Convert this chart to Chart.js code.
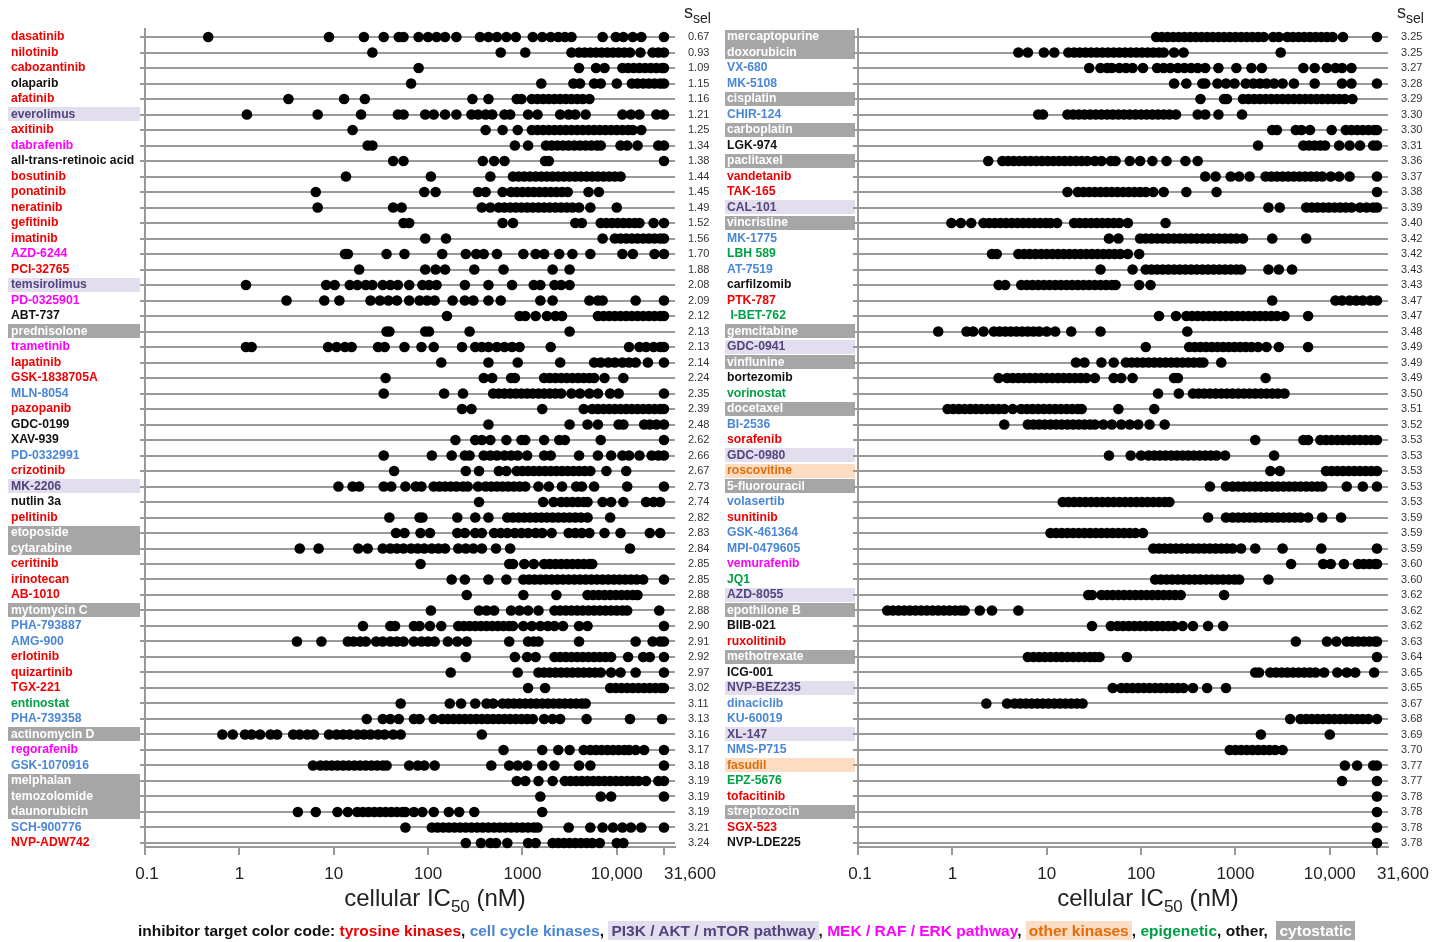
<!DOCTYPE html>
<html>
<head>
<meta charset="utf-8">
<script src="https://cdn.jsdelivr.net/npm/chart.js@4/dist/chart.umd.min.js"></script>
<style>
    body { margin: 0; background: #fff; width: 1445px; height: 942px; position: relative; overflow: hidden; font-family: "Liberation Sans", Arial, sans-serif; }
    canvas { position: absolute; top: 0; }
    #painelEsq { left: 0; }
    #painelDir { left: 713px; }
    #legenda { position: absolute; left: 138px; top: 922px; font-weight: bold; font-size: 15.5px; white-space: nowrap; color: #111; }
    #legenda span.caixa { padding: 1px 3px; }
</style>
</head>
<body>
<canvas id="painelEsq" width="718" height="942"></canvas>
<canvas id="painelDir" width="732" height="942"></canvas>
<div id="legenda">inhibitor target color code: <span style="color:#f00000">tyrosine kinases</span>, <span style="color:#4a86d6">cell cycle kinases</span>, <span class="caixa" style="color:#54437e;background:#e2deed">PI3K / AKT / mTOR pathway</span>, <span style="color:#ff00ff">MEK / RAF / ERK pathway</span>, <span class="caixa" style="color:#e36c0a;background:#fcdcc2">other kinases</span>, <span style="color:#00a046">epigenetic</span>, other, &nbsp;<span class="caixa" style="color:#fff;background:#a6a6a6">cytostatic</span></div>
<script>
// Dados: valores de IC50 em log10(nM), uma linha por composto
const xTicks = [-1, 0, 1, 2, 3, 4, 4.5];
const xTickLabels = ['0.1', '1', '10', '100', '1000', '10,000', '31,600'];

// tk = tirosina quinase, cc = ciclo celular, pi3k, mek, outra = outras quinases, epi = epigenetico, other, cito = citostatico
const leftDrugs = ['dasatinib', 'nilotinib', 'cabozantinib', 'olaparib', 'afatinib', 'everolimus', 'axitinib', 'dabrafenib', 'all-trans-retinoic acid', 'bosutinib', 'ponatinib', 'neratinib', 'gefitinib', 'imatinib', 'AZD-6244', 'PCI-32765', 'temsirolimus', 'PD-0325901', 'ABT-737', 'prednisolone', 'trametinib', 'lapatinib', 'GSK-1838705A', 'MLN-8054', 'pazopanib', 'GDC-0199', 'XAV-939', 'PD-0332991', 'crizotinib', 'MK-2206', 'nutlin 3a', 'pelitinib', 'etoposide', 'cytarabine', 'ceritinib', 'irinotecan', 'AB-1010', 'mytomycin C', 'PHA-793887', 'AMG-900', 'erlotinib', 'quizartinib', 'TGX-221', 'entinostat', 'PHA-739358', 'actinomycin D', 'regorafenib', 'GSK-1070916', 'melphalan', 'temozolomide', 'daunorubicin', 'SCH-900776', 'NVP-ADW742'];
const leftClass = ['tk', 'tk', 'tk', 'other', 'tk', 'pi3k', 'tk', 'mek', 'other', 'tk', 'tk', 'tk', 'tk', 'tk', 'mek', 'tk', 'pi3k', 'mek', 'other', 'cito', 'mek', 'tk', 'tk', 'cc', 'tk', 'other', 'other', 'cc', 'tk', 'pi3k', 'other', 'tk', 'cito', 'cito', 'tk', 'tk', 'tk', 'cito', 'cc', 'cc', 'tk', 'tk', 'tk', 'epi', 'cc', 'cito', 'mek', 'cc', 'cito', 'cito', 'cito', 'cc', 'tk'];
const leftSsel = [0.67, 0.93, 1.09, 1.15, 1.16, 1.21, 1.25, 1.34, 1.38, 1.44, 1.45, 1.49, 1.52, 1.56, 1.70, 1.88, 2.08, 2.09, 2.12, 2.13, 2.13, 2.14, 2.24, 2.35, 2.39, 2.48, 2.62, 2.66, 2.67, 2.73, 2.74, 2.82, 2.83, 2.84, 2.85, 2.85, 2.88, 2.88, 2.90, 2.91, 2.92, 2.97, 3.02, 3.11, 3.13, 3.16, 3.17, 3.18, 3.19, 3.19, 3.19, 3.21, 3.24];
const leftLogIC50 = [
    [-0.33, 0.95, 1.32, 1.53, 1.69, 1.74, 1.90, 2.00, 2.09, 2.18, 2.30, 2.55, 2.64, 2.73, 2.83, 2.93, 3.11, 3.21, 3.30, 3.38, 3.45, 3.52, 3.85, 3.99, 4.07, 4.17, 4.26, 4.50],
    [1.41, 2.77, 3.03, 3.52, 3.60, 3.66, 3.72, 3.78, 3.84, 3.90, 3.96, 4.02, 4.08, 4.14, 4.25, 4.38, 4.44, 4.50],
    [1.90, 3.60, 3.78, 3.87, 4.06, 4.12, 4.18, 4.24, 4.30, 4.36, 4.42, 4.48, 4.50],
    [1.82, 3.20, 3.54, 3.61, 3.76, 3.83, 4.00, 4.16, 4.22, 4.28, 4.34, 4.40, 4.46, 4.50],
    [0.52, 1.11, 1.33, 2.47, 2.64, 2.94, 2.99, 3.10, 3.16, 3.22, 3.28, 3.34, 3.40, 3.46, 3.52, 3.58, 3.64, 3.71],
    [0.08, 0.83, 1.29, 1.68, 1.74, 1.97, 2.06, 2.18, 2.30, 2.46, 2.53, 2.61, 2.68, 2.81, 2.87, 3.06, 3.16, 3.40, 3.49, 3.56, 3.67, 4.06, 4.15, 4.24, 4.42, 4.50],
    [1.20, 2.61, 2.79, 2.95, 3.10, 3.16, 3.22, 3.28, 3.34, 3.40, 3.46, 3.52, 3.58, 3.64, 3.70, 3.76, 3.82, 3.88, 3.94, 4.00, 4.06, 4.12, 4.17, 4.26],
    [1.36, 1.41, 2.92, 3.06, 3.25, 3.31, 3.37, 3.43, 3.49, 3.55, 3.61, 3.67, 3.73, 3.79, 3.83, 4.04, 4.11, 4.22, 4.44, 4.50],
    [1.63, 1.74, 2.58, 2.70, 2.81, 3.24, 3.28, 4.50],
    [1.13, 2.03, 2.66, 2.90, 2.96, 3.02, 3.08, 3.14, 3.20, 3.26, 3.32, 3.38, 3.44, 3.50, 3.56, 3.62, 3.68, 3.74, 3.80, 3.86, 3.92, 3.98, 4.04],
    [0.81, 1.96, 2.08, 2.53, 2.61, 2.79, 2.88, 2.94, 3.00, 3.06, 3.12, 3.18, 3.24, 3.30, 3.36, 3.42, 3.48, 3.70, 3.81],
    [0.83, 1.63, 1.72, 2.57, 2.66, 2.75, 2.81, 2.87, 2.93, 2.99, 3.05, 3.11, 3.17, 3.23, 3.29, 3.35, 3.41, 3.47, 3.53, 3.60, 3.72, 4.00],
    [1.74, 1.80, 2.79, 2.90, 3.56, 3.63, 3.83, 3.89, 3.95, 4.01, 4.07, 4.13, 4.19, 4.24, 4.39, 4.50],
    [1.97, 2.19, 3.85, 3.98, 4.04, 4.10, 4.16, 4.22, 4.28, 4.34, 4.40, 4.46, 4.50],
    [1.12, 1.15, 1.56, 1.75, 2.15, 2.40, 2.51, 2.59, 2.73, 3.01, 3.14, 3.23, 3.39, 3.53, 3.72, 4.06, 4.17, 4.40, 4.50],
    [1.27, 1.97, 2.08, 2.18, 2.49, 2.80, 3.32, 3.50],
    [0.07, 0.92, 1.01, 1.17, 1.25, 1.34, 1.41, 1.52, 1.60, 1.68, 1.80, 1.94, 2.01, 2.09, 2.39, 2.64, 2.89, 3.12, 3.19, 3.34, 3.41, 3.50],
    [0.50, 0.90, 1.06, 1.39, 1.49, 1.58, 1.67, 1.80, 1.91, 1.99, 2.07, 2.26, 2.39, 2.48, 2.64, 2.77, 3.19, 3.32, 3.71, 3.80, 3.85, 4.20, 4.50],
    [2.20, 2.97, 3.03, 3.14, 3.26, 3.35, 3.42, 3.80, 3.86, 3.92, 3.98, 4.04, 4.10, 4.16, 4.22, 4.28, 4.34, 4.40, 4.46, 4.50],
    [1.56, 1.59, 1.97, 2.01, 2.44, 3.50],
    [0.07, 0.13, 0.94, 1.03, 1.12, 1.19, 1.47, 1.54, 1.75, 1.93, 2.06, 2.36, 2.50, 2.57, 2.64, 2.73, 2.81, 2.89, 2.97, 3.30, 4.13, 4.24, 4.31, 4.39, 4.46, 4.50],
    [2.14, 2.64, 2.95, 3.40, 3.76, 3.83, 3.91, 3.98, 4.06, 4.13, 4.20, 4.33, 4.50],
    [1.55, 2.59, 2.68, 2.88, 2.92, 3.23, 3.29, 3.35, 3.41, 3.47, 3.53, 3.59, 3.65, 3.71, 3.76, 3.87, 4.07],
    [1.53, 2.17, 2.37, 2.69, 2.75, 2.81, 2.87, 2.93, 2.99, 3.05, 3.11, 3.17, 3.23, 3.29, 3.35, 3.41, 3.52, 3.61, 3.71, 3.80, 3.93, 4.02, 4.50],
    [2.36, 2.46, 3.21, 3.65, 3.74, 3.80, 3.86, 3.92, 3.98, 4.04, 4.10, 4.16, 4.22, 4.28, 4.34, 4.40, 4.46, 4.50],
    [2.64, 3.50, 3.69, 3.80, 4.02, 4.07, 4.29, 4.35, 4.42, 4.50],
    [2.29, 2.50, 2.57, 2.66, 2.83, 2.99, 3.03, 3.23, 3.39, 3.45, 3.83, 4.50],
    [1.53, 2.04, 2.25, 2.39, 2.44, 2.59, 2.66, 2.73, 2.81, 2.88, 2.95, 3.05, 3.23, 3.30, 3.60, 3.80, 3.94, 4.06, 4.13, 4.24, 4.37, 4.44, 4.50],
    [1.64, 2.40, 2.54, 2.75, 2.83, 2.94, 3.00, 3.06, 3.12, 3.18, 3.24, 3.30, 3.36, 3.42, 3.48, 3.54, 3.60, 3.66, 3.72, 3.89, 4.10],
    [1.05, 1.20, 1.27, 1.53, 1.61, 1.76, 1.87, 1.93, 2.06, 2.12, 2.18, 2.24, 2.30, 2.37, 2.42, 2.53, 2.61, 2.67, 2.73, 2.79, 2.85, 2.91, 2.97, 3.03, 3.17, 3.28, 3.42, 3.57, 3.63, 3.76, 4.11, 4.50],
    [2.54, 3.22, 3.33, 3.41, 3.47, 3.53, 3.59, 3.65, 3.69, 3.85, 3.94, 4.07, 4.31, 4.39, 4.46],
    [1.59, 1.91, 1.94, 2.31, 2.50, 2.64, 2.84, 2.90, 2.96, 3.02, 3.08, 3.14, 3.20, 3.26, 3.32, 3.38, 3.44, 3.50, 3.56, 3.62, 3.69, 3.93],
    [1.66, 1.75, 1.92, 2.02, 2.31, 2.39, 2.50, 2.57, 2.70, 2.77, 2.84, 2.92, 2.99, 3.06, 3.14, 3.21, 3.31, 3.49, 3.56, 3.63, 3.71, 3.87, 4.04, 4.35, 4.46],
    [0.64, 0.84, 1.26, 1.36, 1.52, 1.60, 1.67, 1.74, 1.82, 1.89, 1.96, 2.04, 2.11, 2.18, 2.32, 2.40, 2.48, 2.57, 2.72, 2.87, 4.14],
    [1.92, 2.86, 2.90, 3.02, 3.12, 3.23, 3.29, 3.35, 3.41, 3.47, 3.53, 3.59, 3.65, 3.71, 3.74],
    [2.25, 2.39, 2.64, 2.83, 3.01, 3.07, 3.13, 3.19, 3.25, 3.31, 3.37, 3.43, 3.49, 3.55, 3.61, 3.67, 3.73, 3.79, 3.85, 3.91, 3.97, 4.03, 4.09, 4.15, 4.21, 4.28, 4.50],
    [2.41, 3.01, 3.36, 3.69, 3.75, 3.81, 3.87, 3.93, 3.99, 4.05, 4.11, 4.17, 4.22],
    [2.03, 2.54, 2.62, 2.70, 2.88, 2.97, 3.06, 3.17, 3.34, 3.40, 3.46, 3.52, 3.58, 3.64, 3.70, 3.76, 3.82, 3.88, 3.94, 4.00, 4.06, 4.11, 4.45],
    [1.31, 1.60, 1.65, 1.85, 1.91, 2.02, 2.14, 2.32, 2.38, 2.44, 2.50, 2.56, 2.62, 2.68, 2.74, 2.80, 2.86, 2.90, 3.01, 3.10, 3.19, 3.27, 3.34, 3.43, 3.60, 3.69, 4.50],
    [0.61, 0.87, 1.15, 1.21, 1.28, 1.34, 1.45, 1.52, 1.60, 1.67, 1.74, 1.85, 1.93, 2.00, 2.07, 2.21, 2.31, 2.41, 2.86, 3.06, 3.12, 3.17, 3.60, 4.20, 4.38, 4.46, 4.50],
    [2.40, 2.92, 3.05, 3.14, 3.34, 3.40, 3.46, 3.52, 3.58, 3.64, 3.70, 3.76, 3.82, 3.88, 3.94, 4.12, 4.28, 4.35, 4.50],
    [2.24, 2.95, 3.17, 3.23, 3.29, 3.35, 3.41, 3.47, 3.53, 3.59, 3.65, 3.71, 3.77, 3.83, 3.94, 4.04, 4.20, 4.50],
    [3.06, 3.24, 3.93, 3.99, 4.05, 4.11, 4.17, 4.23, 4.29, 4.35, 4.41, 4.47, 4.50],
    [1.71, 2.23, 2.35, 2.50, 2.62, 2.69, 2.79, 2.85, 2.91, 2.97, 3.03, 3.09, 3.15, 3.21, 3.27, 3.33, 3.39, 3.45, 3.51, 3.57, 3.63, 3.67],
    [1.35, 1.52, 1.60, 1.69, 1.85, 1.91, 2.06, 2.15, 2.21, 2.27, 2.33, 2.39, 2.45, 2.51, 2.57, 2.63, 2.69, 2.75, 2.81, 2.87, 2.93, 2.99, 3.05, 3.11, 3.23, 3.32, 3.40, 3.68, 4.14, 4.48],
    [-0.18, -0.07, 0.06, 0.13, 0.22, 0.33, 0.40, 0.57, 0.64, 0.72, 0.79, 0.95, 1.03, 1.10, 1.17, 1.25, 1.32, 1.39, 1.47, 1.54, 1.63, 1.71, 2.57],
    [2.80, 3.21, 3.38, 3.50, 3.65, 3.72, 3.78, 3.84, 3.90, 3.96, 4.02, 4.08, 4.13, 4.20, 4.29, 4.50],
    [0.78, 0.86, 0.92, 0.98, 1.04, 1.10, 1.16, 1.22, 1.28, 1.34, 1.40, 1.46, 1.52, 1.56, 1.80, 1.89, 1.96, 2.07, 2.67, 2.86, 2.95, 3.05, 3.21, 3.34, 3.60, 3.72, 4.50],
    [2.94, 3.03, 3.17, 3.32, 3.45, 3.51, 3.57, 3.63, 3.69, 3.75, 3.81, 3.87, 3.93, 3.99, 4.05, 4.11, 4.17, 4.23, 4.31, 4.44, 4.50],
    [3.19, 3.83, 3.94, 4.50],
    [0.62, 0.81, 1.04, 1.15, 1.25, 1.31, 1.37, 1.43, 1.49, 1.55, 1.61, 1.67, 1.73, 1.76, 1.85, 1.94, 2.06, 2.22, 2.33, 2.49, 3.21],
    [1.76, 2.04, 2.10, 2.16, 2.22, 2.28, 2.34, 2.40, 2.46, 2.52, 2.58, 2.64, 2.70, 2.76, 2.82, 2.88, 2.94, 3.00, 3.06, 3.12, 3.16, 3.49, 3.72, 3.85, 3.96, 4.06, 4.15, 4.26, 4.50],
    [2.40, 2.56, 2.66, 2.72, 2.84, 3.06, 3.14, 3.32, 3.38, 3.44, 3.50, 3.56, 3.62, 3.68, 3.74, 3.82, 4.00, 4.07]
];

const rightDrugs = ['mercaptopurine', 'doxorubicin', 'VX-680', 'MK-5108', 'cisplatin', 'CHIR-124', 'carboplatin', 'LGK-974', 'paclitaxel', 'vandetanib', 'TAK-165', 'CAL-101', 'vincristine', 'MK-1775', 'LBH 589', 'AT-7519', 'carfilzomib', 'PTK-787', ' I-BET-762', 'gemcitabine', 'GDC-0941', 'vinflunine', 'bortezomib', 'vorinostat', 'docetaxel', 'BI-2536', 'sorafenib', 'GDC-0980', 'roscovitine', '5-fluorouracil', 'volasertib', 'sunitinib', 'GSK-461364', 'MPI-0479605', 'vemurafenib', 'JQ1', 'AZD-8055', 'epothilone B', 'BIIB-021', 'ruxolitinib', 'methotrexate', 'ICG-001', 'NVP-BEZ235', 'dinaciclib', 'KU-60019', 'XL-147', 'NMS-P715', 'fasudil', 'EPZ-5676', 'tofacitinib', 'streptozocin', 'SGX-523', 'NVP-LDE225'];
const rightClass = ['cito', 'cito', 'cc', 'cc', 'cito', 'cc', 'cito', 'other', 'cito', 'tk', 'tk', 'pi3k', 'cito', 'cc', 'epi', 'cc', 'other', 'tk', 'epi', 'cito', 'pi3k', 'cito', 'other', 'epi', 'cito', 'cc', 'tk', 'pi3k', 'outra', 'cito', 'cc', 'tk', 'cc', 'cc', 'mek', 'epi', 'pi3k', 'cito', 'other', 'tk', 'cito', 'other', 'pi3k', 'cc', 'cc', 'pi3k', 'cc', 'outra', 'epi', 'tk', 'cito', 'tk', 'other'];
const rightSsel = [3.25, 3.25, 3.27, 3.28, 3.29, 3.30, 3.30, 3.31, 3.36, 3.37, 3.38, 3.39, 3.40, 3.42, 3.42, 3.43, 3.43, 3.47, 3.47, 3.48, 3.49, 3.49, 3.49, 3.50, 3.51, 3.52, 3.53, 3.53, 3.53, 3.53, 3.53, 3.59, 3.59, 3.59, 3.60, 3.60, 3.62, 3.62, 3.62, 3.63, 3.64, 3.65, 3.65, 3.67, 3.68, 3.69, 3.70, 3.77, 3.77, 3.78, 3.78, 3.78, 3.78];
const rightLogIC50 = [
    [2.16, 2.22, 2.28, 2.34, 2.40, 2.46, 2.52, 2.58, 2.64, 2.70, 2.76, 2.82, 2.88, 2.94, 3.00, 3.06, 3.12, 3.18, 3.24, 3.30, 3.40, 3.46, 3.55, 3.61, 3.67, 3.73, 3.79, 3.85, 3.91, 3.97, 4.03, 4.14, 4.50],
    [0.70, 0.80, 0.97, 1.08, 1.23, 1.29, 1.35, 1.41, 1.47, 1.53, 1.59, 1.65, 1.71, 1.77, 1.83, 1.89, 1.95, 2.01, 2.07, 2.13, 2.19, 2.24, 2.35, 2.45, 3.48],
    [1.45, 1.57, 1.64, 1.69, 1.77, 1.84, 1.91, 2.02, 2.17, 2.24, 2.31, 2.39, 2.46, 2.53, 2.60, 2.68, 2.82, 3.01, 3.17, 3.28, 3.72, 3.84, 3.97, 4.06, 4.13, 4.23],
    [2.35, 2.48, 2.65, 2.68, 2.81, 2.90, 2.99, 3.11, 3.19, 3.26, 3.33, 3.41, 3.50, 3.62, 3.84, 4.13, 4.23, 4.50],
    [2.63, 2.88, 2.91, 3.08, 3.14, 3.20, 3.26, 3.32, 3.38, 3.44, 3.50, 3.56, 3.62, 3.68, 3.74, 3.80, 3.86, 3.92, 3.98, 4.04, 4.10, 4.16, 4.24],
    [0.91, 0.96, 1.22, 1.28, 1.34, 1.40, 1.46, 1.52, 1.58, 1.64, 1.70, 1.76, 1.82, 1.88, 1.94, 2.00, 2.06, 2.12, 2.18, 2.24, 2.30, 2.37, 2.60, 2.68, 2.82, 3.07],
    [3.39, 3.44, 3.64, 3.70, 3.79, 4.02, 4.17, 4.23, 4.29, 4.35, 4.41, 4.47, 4.50],
    [3.24, 3.72, 3.78, 3.84, 3.90, 3.95, 4.10, 4.21, 4.32, 4.46, 4.50],
    [0.38, 0.53, 0.59, 0.65, 0.71, 0.77, 0.83, 0.89, 0.95, 1.01, 1.07, 1.13, 1.19, 1.25, 1.31, 1.37, 1.43, 1.51, 1.58, 1.68, 1.73, 1.88, 1.99, 2.12, 2.27, 2.47, 2.60],
    [2.68, 2.79, 2.95, 3.04, 3.15, 3.32, 3.38, 3.44, 3.50, 3.56, 3.62, 3.68, 3.74, 3.80, 3.86, 3.92, 4.01, 4.10, 4.21, 4.50],
    [1.22, 1.33, 1.39, 1.45, 1.51, 1.57, 1.63, 1.69, 1.75, 1.81, 1.87, 1.93, 1.99, 2.05, 2.13, 2.24, 2.48, 2.80, 4.50],
    [3.35, 3.47, 3.75, 3.81, 3.87, 3.93, 3.99, 4.05, 4.11, 4.17, 4.23, 4.32, 4.39, 4.46, 4.50],
    [-0.01, 0.09, 0.20, 0.33, 0.39, 0.45, 0.51, 0.57, 0.63, 0.69, 0.75, 0.81, 0.87, 0.93, 0.99, 1.04, 1.11, 1.29, 1.35, 1.41, 1.47, 1.53, 1.59, 1.65, 1.71, 1.77, 1.86, 2.26],
    [1.66, 1.76, 1.99, 2.05, 2.11, 2.17, 2.23, 2.29, 2.35, 2.41, 2.47, 2.53, 2.59, 2.65, 2.71, 2.77, 2.83, 2.89, 2.95, 3.01, 3.08, 3.39, 3.75],
    [0.42, 0.47, 0.70, 0.76, 0.82, 0.88, 0.94, 1.00, 1.06, 1.12, 1.18, 1.24, 1.30, 1.36, 1.42, 1.48, 1.54, 1.60, 1.66, 1.72, 1.78, 1.86, 1.98],
    [1.57, 1.91, 2.05, 2.11, 2.17, 2.23, 2.29, 2.35, 2.41, 2.47, 2.53, 2.59, 2.65, 2.71, 2.77, 2.83, 2.89, 2.95, 3.01, 3.06, 3.35, 3.46, 3.60],
    [0.49, 0.56, 0.73, 0.79, 0.85, 0.91, 0.97, 1.03, 1.09, 1.15, 1.21, 1.27, 1.33, 1.39, 1.45, 1.51, 1.57, 1.63, 1.69, 1.73, 1.98, 2.10],
    [3.39, 4.06, 4.13, 4.21, 4.28, 4.35, 4.43, 4.50],
    [2.19, 2.37, 2.48, 2.54, 2.60, 2.66, 2.72, 2.78, 2.84, 2.90, 2.96, 3.02, 3.08, 3.14, 3.20, 3.26, 3.32, 3.38, 3.44, 3.52, 3.77],
    [-0.15, 0.15, 0.22, 0.33, 0.44, 0.50, 0.56, 0.62, 0.68, 0.74, 0.80, 0.86, 0.92, 1.00, 1.09, 1.26, 1.57, 2.49],
    [2.05, 2.51, 2.57, 2.63, 2.69, 2.75, 2.81, 2.87, 2.93, 2.99, 3.05, 3.11, 3.17, 3.24, 3.33, 3.46, 3.77],
    [1.31, 1.40, 1.58, 1.71, 1.84, 1.90, 1.96, 2.02, 2.08, 2.14, 2.20, 2.26, 2.32, 2.38, 2.44, 2.50, 2.56, 2.62, 2.66, 2.85],
    [0.49, 0.58, 0.64, 0.70, 0.76, 0.82, 0.88, 0.94, 1.00, 1.06, 1.12, 1.18, 1.24, 1.30, 1.36, 1.42, 1.51, 1.71, 1.79, 1.91, 2.35, 2.39, 3.32],
    [2.18, 2.40, 2.55, 2.61, 2.67, 2.73, 2.79, 2.85, 2.91, 2.97, 3.03, 3.09, 3.15, 3.21, 3.27, 3.33, 3.39, 3.45, 3.52],
    [-0.05, 0.01, 0.07, 0.13, 0.19, 0.25, 0.31, 0.37, 0.43, 0.49, 0.55, 0.64, 0.73, 0.79, 0.85, 0.91, 0.97, 1.03, 1.09, 1.15, 1.21, 1.27, 1.33, 1.37, 1.76, 2.14],
    [0.55, 0.80, 0.86, 0.92, 0.98, 1.04, 1.10, 1.16, 1.22, 1.28, 1.34, 1.40, 1.46, 1.51, 1.60, 1.69, 1.79, 1.88, 1.97, 2.09, 2.25],
    [3.21, 3.72, 3.77, 3.90, 3.96, 4.02, 4.08, 4.14, 4.20, 4.26, 4.32, 4.38, 4.44, 4.50],
    [1.66, 1.89, 2.00, 2.08, 2.14, 2.20, 2.26, 2.32, 2.38, 2.44, 2.50, 2.56, 2.62, 2.68, 2.74, 2.80, 2.89, 3.41],
    [3.37, 3.47, 3.96, 4.02, 4.08, 4.14, 4.20, 4.26, 4.32, 4.38, 4.44, 4.50],
    [2.73, 2.90, 2.97, 3.03, 3.09, 3.15, 3.21, 3.27, 3.33, 3.39, 3.45, 3.51, 3.57, 3.63, 3.69, 3.75, 3.81, 3.87, 3.92, 4.18, 4.35, 4.50],
    [1.17, 1.23, 1.29, 1.35, 1.41, 1.47, 1.53, 1.59, 1.65, 1.71, 1.77, 1.83, 1.89, 1.95, 2.01, 2.07, 2.13, 2.19, 2.25, 2.30],
    [2.71, 2.90, 2.97, 3.03, 3.09, 3.15, 3.21, 3.27, 3.33, 3.39, 3.45, 3.51, 3.57, 3.63, 3.69, 3.77, 3.92, 4.12],
    [1.04, 1.10, 1.16, 1.22, 1.28, 1.34, 1.40, 1.46, 1.52, 1.58, 1.64, 1.70, 1.76, 1.82, 1.88, 1.94, 2.02],
    [2.13, 2.19, 2.25, 2.31, 2.37, 2.43, 2.49, 2.55, 2.61, 2.67, 2.73, 2.79, 2.85, 2.91, 2.97, 3.06, 3.21, 3.50, 3.91, 4.50],
    [3.59, 3.93, 4.01, 4.15, 4.30, 4.36, 4.42, 4.48, 4.50],
    [2.15, 2.21, 2.27, 2.33, 2.39, 2.45, 2.51, 2.57, 2.63, 2.69, 2.75, 2.81, 2.87, 2.93, 2.99, 3.04, 3.35],
    [1.44, 1.48, 1.58, 1.64, 1.70, 1.76, 1.82, 1.88, 1.94, 2.00, 2.06, 2.12, 2.18, 2.24, 2.30, 2.36, 2.42, 2.88],
    [-0.69, -0.63, -0.57, -0.51, -0.45, -0.39, -0.33, -0.27, -0.21, -0.15, -0.09, -0.03, 0.03, 0.09, 0.13, 0.29, 0.42, 0.70],
    [1.48, 1.68, 1.75, 1.81, 1.87, 1.93, 1.99, 2.05, 2.11, 2.17, 2.23, 2.29, 2.35, 2.44, 2.55, 2.71, 2.87],
    [3.64, 3.97, 4.07, 4.18, 4.24, 4.30, 4.36, 4.42, 4.48, 4.50],
    [0.80, 0.86, 0.92, 0.98, 1.04, 1.10, 1.16, 1.22, 1.28, 1.34, 1.40, 1.46, 1.51, 1.56, 1.85, 4.50],
    [3.21, 3.25, 3.37, 3.43, 3.49, 3.55, 3.61, 3.67, 3.73, 3.79, 3.85, 3.94, 4.08, 4.18, 4.27, 4.47],
    [1.70, 1.79, 1.85, 1.91, 1.97, 2.03, 2.09, 2.15, 2.21, 2.27, 2.33, 2.39, 2.45, 2.55, 2.70, 2.90],
    [0.36, 0.58, 0.66, 0.72, 0.78, 0.84, 0.90, 0.96, 1.02, 1.08, 1.14, 1.20, 1.26, 1.32, 1.38],
    [3.58, 3.69, 3.75, 3.81, 3.87, 3.93, 3.99, 4.05, 4.11, 4.17, 4.23, 4.29, 4.35, 4.41, 4.50],
    [3.27, 4.00],
    [2.94, 3.00, 3.06, 3.12, 3.18, 3.24, 3.30, 3.36, 3.42, 3.50],
    [4.16, 4.29, 4.46, 4.50],
    [4.13, 4.50],
    [4.50],
    [4.50],
    [4.50],
    [4.50]
];

const corClasse = { tk: '#f00000', cc: '#4a86d6', pi3k: '#54437e', mek: '#ff00ff', outra: '#e36c0a', epi: '#00a046', other: '#111111', cito: '#ffffff' };
const fundoClasse = { pi3k: '#e2deed', outra: '#fcdcc2', cito: '#a6a6a6' };
const fonte = '"Liberation Sans", Arial, sans-serif';

function plotarPainel(idCanvas, nomes, classes, ssel, valores, caixaEsq, caixaDir, textoEsq) {
    let pontos = [];
    for (let i = 0; i < valores.length; i++) {
        for (let j = 0; j < valores[i].length; j++) {
            pontos.push({ x: valores[i][j], y: i + 1 });
        }
    }
    const canvas = document.getElementById(idCanvas);

    const pluginTextos = {
        id: 'textos',
        beforeDraw(chart) {
            // caixas de fundo atras dos nomes (vizinhas se juntam)
            const ctx = chart.ctx;
            const ys = chart.scales.y;
            const passo = Math.abs(ys.getPixelForValue(2) - ys.getPixelForValue(1));
            ctx.save();
            for (let i = 0; i < classes.length; i++) {
                const fundo = fundoClasse[classes[i]];
                if (!fundo) continue;
                const py = ys.getPixelForValue(i + 1);
                const topo = Math.round(py - passo / 2 + 0.5);
                const juntaBaixo = classes[i + 1] == classes[i];
                ctx.fillStyle = fundo;
                ctx.fillRect(caixaEsq, topo, caixaDir - caixaEsq, Math.round(passo) + (juntaBaixo ? 1 : -1));
            }
            ctx.restore();
        },
        afterDraw(chart) {
            const ctx = chart.ctx;
            const xs = chart.scales.x;
            ctx.save();
            ctx.fillStyle = '#222';
            ctx.textBaseline = 'alphabetic';
            // rotulos do eixo x
            ctx.font = '17px ' + fonte;
            for (let i = 0; i < xTicks.length; i++) {
                const px = xs.getPixelForValue(xTicks[i]);
                ctx.textAlign = (i == xTicks.length - 1) ? 'left' : 'center';
                ctx.fillText(xTickLabels[i], px + (i == 0 ? 2 : 0), 879);
            }
            // titulo do eixo com subscrito
            ctx.textAlign = 'left';
            ctx.font = '24px ' + fonte;
            const p1 = 'cellular IC', p2 = ' (nM)';
            const w1 = ctx.measureText(p1).width;
            const w2 = ctx.measureText(p2).width;
            ctx.font = '17px ' + fonte;
            const ws = ctx.measureText('50').width;
            let x0 = 435 - (w1 + ws + w2) / 2;
            ctx.font = '24px ' + fonte;
            ctx.fillText(p1, x0, 906);
            ctx.font = '17px ' + fonte;
            ctx.fillText('50', x0 + w1, 912);
            ctx.font = '24px ' + fonte;
            ctx.fillText(p2, x0 + w1 + ws, 906);
            // cabecalho s_sel
            ctx.font = '18px ' + fonte;
            ctx.fillText('s', 684, 18);
            const wsel = ctx.measureText('s').width;
            ctx.font = '14px ' + fonte;
            ctx.fillText('sel', 684 + wsel, 23);
            ctx.restore();
        }
    };

    const linhasY = s => { s.ticks = nomes.map((_, i) => ({ value: i + 1 })); };

    new Chart(canvas.getContext('2d'), {
        type: 'scatter',
        data: {
            datasets: [{
                data: pontos,
                backgroundColor: '#000',
                borderWidth: 0,
                pointRadius: 5.3,
                pointHoverRadius: 5.3,
                clip: false
            }]
        },
        options: {
            responsive: false,
            animation: false,
            events: [],
            layout: { padding: { top: 29, left: textoEsq, right: 0, bottom: 0 } },
            plugins: { legend: { display: false }, tooltip: { enabled: false } },
            scales: {
                x: {
                    type: 'linear',
                    min: -1,
                    max: 4.617,
                    afterBuildTicks: s => { s.ticks = xTicks.map(v => ({ value: v })); },
                    afterFit: s => { s.height = 95; },
                    grid: { drawOnChartArea: false, color: '#999', lineWidth: 2, tickLength: 8 },
                    border: { color: '#999', width: 2 },
                    ticks: { display: false }
                },
                y: {
                    type: 'linear',
                    position: 'left',
                    reverse: true,
                    min: 0.48,
                    max: 53.26,
                    afterBuildTicks: linhasY,
                    afterFit: s => { s.width = 145 - textoEsq; },
                    grid: { color: '#9a9a9a', lineWidth: 2, tickLength: 5 },
                    border: { color: '#999', width: 2 },
                    ticks: {
                        autoSkip: false,
                        crossAlign: 'far',
                        font: { family: fonte, size: 12.2, weight: 'bold' },
                        color: c => corClasse[classes[c.index]],
                        callback: v => nomes[v - 1]
                    }
                },
                y2: {
                    type: 'linear',
                    position: 'right',
                    reverse: true,
                    min: 0.48,
                    max: 53.26,
                    afterBuildTicks: linhasY,
                    afterFit: s => { s.width = canvas.width - 675; },
                    grid: { display: false, drawTicks: false },
                    border: { display: false },
                    ticks: {
                        autoSkip: false,
                        padding: 13,
                        font: { family: fonte, size: 11 },
                        color: '#333',
                        callback: v => ssel[v - 1].toFixed(2)
                    }
                }
            }
        },
        plugins: [pluginTextos]
    });
}

plotarPainel('painelEsq', leftDrugs, leftClass, leftSsel, leftLogIC50, 8, 140, 11);
plotarPainel('painelDir', rightDrugs, rightClass, rightSsel, rightLogIC50, 12, 142, 14);
</script>
</body>
</html>
